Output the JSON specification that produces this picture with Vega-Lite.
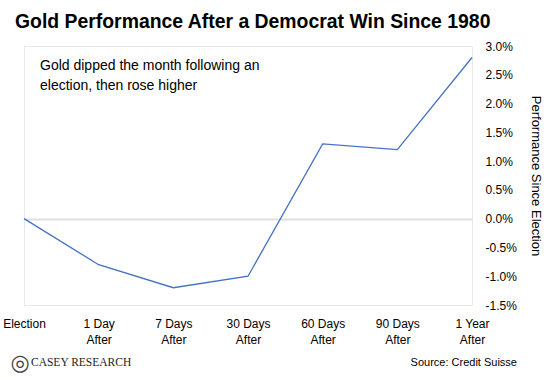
{
  "$schema": "https://vega.github.io/schema/vega-lite/v6.json",
  "width": 448,
  "height": 259,
  "autosize": {"type": "none"},
  "padding": {"left": 24, "top": 46, "right": 78, "bottom": 76},
  "background": "white",
  "title": {
    "text": "Gold Performance After a Democrat Win Since 1980",
    "anchor": "start",
    "frame": "group",
    "font": "Liberation Sans",
    "fontSize": 19.4,
    "fontWeight": "bold",
    "color": "#000000",
    "baseline": "alphabetic",
    "offset": 17,
    "dx": -9,
    "dy": 24
  },
  "config": {
    "view": {"stroke": "#e8e8e8"},
    "font": "Liberation Sans"
  },
  "data": {
    "values": [
      {"period": "Election", "performance": 0.0},
      {"period": "1 Day After", "performance": -0.8},
      {"period": "7 Days After", "performance": -1.2},
      {"period": "30 Days After", "performance": -1.0},
      {"period": "60 Days After", "performance": 1.3},
      {"period": "90 Days After", "performance": 1.2},
      {"period": "1 Year After", "performance": 2.8}
    ]
  },
  "layer": [
    {
      "mark": {"type": "line", "color": "#4472C4", "strokeWidth": 1.3},
      "encoding": {
        "x": {
          "field": "period",
          "type": "ordinal",
          "scale": {
            "type": "point",
            "padding": 0,
            "domain": ["Election", "1 Day After", "7 Days After", "30 Days After", "60 Days After", "90 Days After", "1 Year After"]
          },
          "axis": {
            "title": null,
            "labelAngle": 0,
            "ticks": false,
            "domain": false,
            "grid": false,
            "labelFontSize": 12,
            "labelColor": "#000000",
            "labelBaseline": "top",
            "labelPadding": 13,
            "labelLineHeight": 16,
            "labelExpr": "indexof(datum.label, ' After') > 0 ? [replace(datum.label, ' After', ''), 'After'] : datum.label"
          }
        },
        "y": {
          "field": "performance",
          "type": "quantitative",
          "scale": {"domain": [-1.5, 3], "nice": false, "zero": false},
          "axis": {
            "orient": "right",
            "tickCount": 10,
            "labelOverlap": false,
            "labelExpr": "(datum.value < 0 ? '-' : '') + format(abs(datum.value), '.1f') + '%'",
            "ticks": false,
            "domain": false,
            "grid": true,
            "gridColor": "#e0e0e0",
            "gridWidth": 2,
            "gridOpacity": {"condition": {"test": "datum.value === 0", "value": 1}, "value": 0},
            "labelFontSize": 12,
            "labelColor": "#000000",
            "labelPadding": 13,
            "title": "Performance Since Election",
            "titleFontSize": 13,
            "titleFontWeight": "normal",
            "titleColor": "#000000",
            "titleAngle": 90,
            "titlePadding": 12
          }
        }
      }
    },
    {
      "data": {"values": [{"note": "Gold dipped the month following an\nelection, then rose higher"}]},
      "mark": {"type": "text", "align": "left", "baseline": "alphabetic", "fontSize": 14, "lineHeight": 20, "lineBreak": "\n", "color": "#000000", "dx": 16},
      "encoding": {
        "text": {"field": "note"},
        "x": {"datum": "Election", "type": "ordinal"},
        "y": {"datum": 2.58, "type": "quantitative"}
      }
    },
    {
      "data": {"values": [{"source": "Source: Credit Suisse"}]},
      "mark": {"type": "text", "align": "right", "baseline": "middle", "fontSize": 11, "color": "#000000", "dx": 45},
      "encoding": {
        "text": {"field": "source"},
        "x": {"datum": "1 Year After", "type": "ordinal"},
        "y": {"datum": -2.51, "type": "quantitative"}
      }
    },
    {
      "data": {"values": [{"brand": "CASEY RESEARCH"}]},
      "mark": {"type": "text", "align": "left", "baseline": "middle", "fontSize": 11.5, "font": "Liberation Serif", "color": "#222222", "dx": 7},
      "encoding": {
        "text": {"field": "brand"},
        "x": {"datum": "Election", "type": "ordinal"},
        "y": {"datum": -2.51, "type": "quantitative"}
      }
    },
    {
      "data": {"values": [{"logo": "◎"}]},
      "mark": {"type": "text", "align": "center", "baseline": "middle", "fontSize": 22, "font": "DejaVu Sans", "color": "#444444", "dx": -4},
      "encoding": {
        "text": {"field": "logo"},
        "x": {"datum": "Election", "type": "ordinal"},
        "y": {"datum": -2.51, "type": "quantitative"}
      }
    }
  ]
}
